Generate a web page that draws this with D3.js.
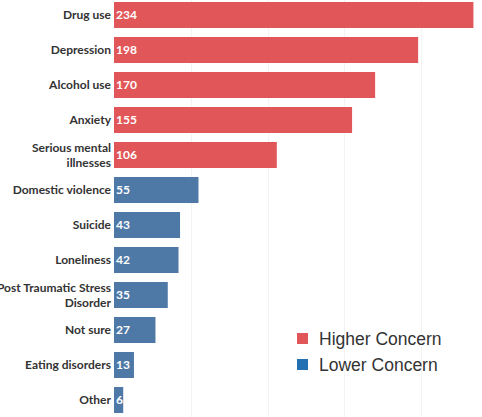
<!DOCTYPE html>
<html>
<head>
<meta charset="utf-8">
<script src="https://cdn.jsdelivr.net/npm/d3@7"></script>
<style>
html,body{margin:0;padding:0;background:#fff;}
svg{display:block;}
</style>
</head>
<body>
<svg id="chart" width="482" height="417"></svg>
<script>
const categories = ["Drug use","Depression","Alcohol use","Anxiety","Serious mental illnesses","Domestic violence","Suicide","Loneliness","Post Traumatic Stress Disorder","Not sure","Eating disorders","Other"];
const labelLines = [["Drug use"],["Depression"],["Alcohol use"],["Anxiety"],["Serious mental","illnesses"],["Domestic violence"],["Suicide"],["Loneliness"],["Post Traumatic Stress","Disorder"],["Not sure"],["Eating disorders"],["Other"]];
const values = [234,198,170,155,106,55,43,42,35,27,13,6];
const groups = ["Higher","Higher","Higher","Higher","Higher","Lower","Lower","Lower","Lower","Lower","Lower","Lower"];
const legendLabels = ["Higher Concern","Lower Concern"];
const gridTicks = [50,100,150,200];

const barColor = {Higher:"#e15759", Lower:"#4e79a7"};
const legendColor = {"Higher Concern":"#e15759","Lower Concern":"#2371b3"};

const svg = d3.select("#chart");
const W = 482, H = 417;
const x = d3.scaleLinear().domain([0,250]).range([114, 114+384]);
const y = d3.scaleBand().domain(categories).range([-2.5, 417.5]).paddingInner(0.257).paddingOuter(0.1285);

// gridlines
svg.append("g").selectAll("line").data(gridTicks).join("line")
  .attr("x1", d=>Math.round(x(d))+0.5).attr("x2", d=>Math.round(x(d))+0.5)
  .attr("y1", 0).attr("y2", H)
  .attr("stroke", "#f3f3f3").attr("stroke-width", 1);

// bars
svg.append("g").selectAll("rect").data(categories).join("rect")
  .attr("x", x(0))
  .attr("y", d=>y(d))
  .attr("width", (d,i)=>x(values[i])-x(0))
  .attr("height", y.bandwidth())
  .attr("fill", (d,i)=>barColor[groups[i]]);

// value labels
svg.append("g").selectAll("text").data(categories).join("text")
  .attr("x", x(0)+2)
  .attr("y", d=>y(d)+y.bandwidth()/2)
  .attr("dy","0.36em")
  .attr("fill","#fff")
  .attr("font-family","Lato, 'Open Sans', sans-serif")
  .attr("font-weight","700")
  .attr("font-size","12px")
  .text((d,i)=>values[i]);

// category labels
const lab = svg.append("g").selectAll("text").data(categories).join("text")
  .attr("text-anchor","end")
  .attr("fill","#333")
  .attr("font-family","Lato, 'Open Sans', sans-serif")
  .attr("font-weight","700")
  .attr("font-size","12px");
lab.each(function(d,i){
  const lines = labelLines[i];
  const cy = y(d)+y.bandwidth()/2;
  const t = d3.select(this);
  lines.forEach((ln,j)=>{
    t.append("tspan").attr("x",111)
      .attr("y", cy + (j-(lines.length-1)/2)*15)
      .attr("dy","0.36em")
      .text(ln);
  });
});

// legend
const lg = svg.append("g").selectAll("g").data(legendLabels).join("g")
  .attr("transform",(d,i)=>`translate(297,${333+i*26})`);
lg.append("rect").attr("width",11).attr("height",11).attr("fill",d=>legendColor[d]);
lg.append("text").attr("x",22).attr("y",5.5).attr("dy","0.36em")
  .attr("fill","#333")
  .attr("font-family","'Liberation Sans', Arial, sans-serif")
  .attr("font-size","17.5px")
  .text(d=>d);
</script>
</body>
</html>
